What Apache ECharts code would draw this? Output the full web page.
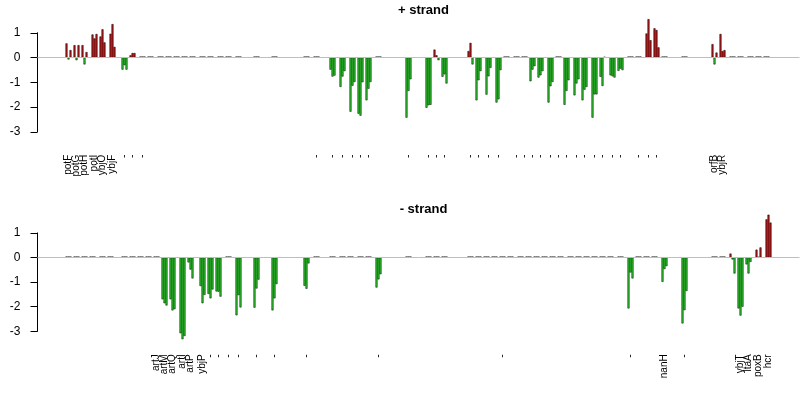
<!DOCTYPE html>
<html><head><meta charset="utf-8">
<script src="https://cdn.jsdelivr.net/npm/echarts@6/dist/echarts.min.js"></script>
<style>html,body{margin:0;padding:0;background:#fff}#c{width:800px;height:400px}</style>
</head><body><div id="c"></div>
<script>
// probe slots along the chromosome segment (each gene = 3 consecutive probes)
const slotCount = 381;
const yMin = -3, yMax = 1, yStep = 1;

// ---- + strand ----
const topStart = [14,18,22,27,31,36,42,46,51,55,60,64,68,72,76,81,85,90,94,99,108,117,133,138,
  146,151,156,160,164,169,184,194,198,202,215,219,224,229,233,238,242,246,250,255,259,263,268,272,277,
  281,286,290,295,299,304,308,312,322,337,341,346,350,355,359,363];
const topValues = [
  [0.57,-0.08,0.30],[0.50,-0.11,0.50],[0.50,-0.28,0.22],[0.93,0.77,0.95],[0.85,1.14,0.61],[0.96,1.35,0.43],
  [-0.49,-0.31,-0.49],[0.09,0.18,0.18],[0,0,0],[0,0,0],[0,0,0],[0,0,0],[0,0,0],[0,0,0],[0,0,0],[0,0,0],
  [0,0,0],[0,0,0],[0,0,0],[0,0,0],[0,0,0],[0,0,0],[0,0,0],[0,0,0],
  [-0.49,-0.77,-0.73],[-1.19,-0.77,-0.55],[-2.19,-1.14,-0.99],[-2.27,-2.35,-1.00],[-1.73,-1.26,-0.99],[0,0,0],
  [-2.43,-1.35,-0.88],[-2.03,-1.93,-1.91],[0.32,0.09,-0.11],[-0.78,-0.68,-1.05],[0.26,0.59,-0.28],
  [-1.73,-0.92,-0.55],[-1.50,-0.76,-0.42],[-1.82,-1.69,-0.51],[0,0,0],[0,0,0],[0,0,0],
  [-0.96,-0.49,-0.35],[-0.81,-0.72,-0.55],[-1.82,-1.16,-0.99],[0,0,0],[-1.91,-1.35,-0.92],
  [-1.53,-1.05,-0.88],[-1.73,-1.30,-1.19],[-2.43,-1.49,-1.49],
  [-0.78,-1.15,0.03],[-0.72,-0.76,-0.81],[-0.54,-0.45,-0.51],[0,0,0],[0,0,0],[0.97,1.55,0.70],[1.18,1.11,0.41],
  [0,0,0],[0,0,0],[0.54,-0.28,0.20],[0.95,0.26,0.30],[0,0,0],[0,0,0],[0,0,0],[0,0,0],[0,0,0]];
const topLabels = [
  'potF','potG','potH','potI','ybjO','ybjF','-','-','-',
  '','','','','','','','','','','','','','',
  '-','-','-','-','-','-','',
  '-','-','-','-','-','-','-','-','','-','-',
  '-','-','-','-','-','-','-','-',
  '-','-','-','','-','-','-','','','orfB','ybjR','','','','',''];

// ---- - strand ----
const botStart = [14,18,22,26,31,35,42,46,50,54,58,62,66,71,75,81,85,89,94,99,108,117,133,138,146,151,155,160,164,169,
  184,194,198,202,215,219,223,227,231,235,240,244,248,252,256,260,265,269,273,277,
  281,285,290,295,299,303,307,312,322,337,341,346,350,354,359,364];
const botValues = [
  [0,0,0],[0,0,0],[0,0,0],[0,0,0],[0,0,0],[0,0,0],[0,0,0],[0,0,0],[0,0,0],[0,0,0],[0,0,0],
  [-1.70,-1.86,-1.95],[-1.70,-2.15,-2.10],[-3.08,-3.32,-3.19],[-0.20,-0.49,-0.85],[-1.16,-1.86,-1.52],
  [-1.48,-1.66,-1.30],[-1.38,-1.39,-1.59],[0,0,0],[-2.35,-1.53,-2.03],[-2.04,-1.26,-0.90],[-2.15,-1.66,-1.08],
  [-1.15,-1.27,-0.24],[0,0,0],[0,0,0],[0,0,0],[0,0,0],[0,0,0],[0,0,0],[-1.22,-0.89,-0.68],
  [0,0,0],[0,0,0],[0,0,0],[0,0,0],[0,0,0],[0,0,0],[0,0,0],[0,0,0],[0,0,0],[0,0,0],[0,0,0],[0,0,0],
  [0,0,0],[0,0,0],[0,0,0],[0,0,0],[0,0,0],[0,0,0],[0,0,0],[0,0,0],
  [0,0,0],[0,0,0],[0,0,0],[-2.07,-0.61,-0.85],[0,0,0],[0,0,0],[0,0,0],[-0.99,-0.47,-0.35],[-2.68,-2.14,-1.36],
  [0,0,0],[0,0,0],[0.16,-0.08,-0.65],[-2.07,-2.36,-2.00],[-0.28,-0.65,-0.18],[0.32,0.03,0.41],[1.55,1.74,1.42]];
const botLabels = [
  '','','','','','','','','','','artJ','artM','artQ','artI','artP','ybjP',
  '-','-','-','-','-','-','-','','','','','','','-',
  '','','','','','','','','-','','','','','','','','','','','',
  '','','','-','','','','nanH','-','','','','ybjT','ltaA','poxB','hcr'];

const titles = ['+ strand', '- strand'];
const upColor = '#B01A1A', downColor = '#33CC33';
const FONT = 'Liberation Sans, Arial, sans-serif';

function buildPanel(starts, values, labels) {
  const bars = new Array(slotCount).fill(null);
  const flat = new Array(slotCount).fill(null);
  const names = new Array(slotCount).fill('');
  starts.forEach((s, i) => {
    const v = values[i];
    const allZero = v.every(x => x === 0);
    v.forEach((x, j) => { if (allZero) flat[s + j] = 0; else bars[s + j] = x; });
    names[s + 1] = labels[i] || '';
  });
  return { bars, flat, names };
}
const panels = [buildPanel(topStart, topValues, topLabels), buildPanel(botStart, botValues, botLabels)];
const cats = Array.from({ length: slotCount }, (_, i) => String(i));

const plotH = [99, 98.4];
const zeroY = [57.5, 257.5];
const grids = plotH.map((h, i) => ({
  left: 37.5, width: slotCount * 2, top: zeroY[i] - h * yMax / (yMax - yMin), height: h
}));

const option = {
  animation: false,
  backgroundColor: '#fff',
  title: titles.map((t, i) => ({
    text: t, left: 418.5, textAlign: 'center', top: i === 0 ? -1 : 198,
    textStyle: { fontFamily: FONT, fontSize: 13, fontWeight: 'bold', color: '#000' }
  })),
  grid: grids,
  xAxis: panels.map((p, i) => ({
    type: 'category', gridIndex: i, data: cats, boundaryGap: true,
    axisLine: { show: false }, axisTick: { show: false }, splitLine: { show: false },
    axisLabel: {
      interval: 0, rotate: 90, margin: 23, fontSize: 10, fontFamily: FONT, color: '#000',
      formatter: (val, idx) => p.names[idx]
    }
  })),
  yAxis: panels.map((p, i) => ({
    type: 'value', gridIndex: i, min: yMin, max: yMax, interval: yStep,
    axisLine: { show: true, lineStyle: { color: '#000', width: 1 } },
    axisTick: { show: true, length: 7, lineStyle: { color: '#000' } },
    splitLine: { show: false },
    axisLabel: { margin: 17, fontSize: 12, fontFamily: FONT, color: '#000' }
  })),
  series: []
};

panels.forEach((p, i) => {
  option.series.push({
    type: 'line', xAxisIndex: i, yAxisIndex: i, data: new Array(slotCount).fill(null), z: 1,
    showSymbol: false, silent: true,
    markLine: { silent: true, symbol: 'none', label: { show: false },
      lineStyle: { color: '#bebebe', type: 'solid', width: 1 }, data: [{ yAxis: 0 }] }
  });
  option.series.push({
    type: 'bar', xAxisIndex: i, yAxisIndex: i, data: p.bars, z: 2, clip: false,
    barCategoryGap: '0%', barGap: '-100%', barWidth: '100%',
    itemStyle: {
      color: params => (params.value >= 0 ? upColor : downColor),
      borderColor: '#000', borderWidth: 0.5
    }
  });
  // zero-valued probes: flat bars (min height 1px) drawn in black along 0
  option.series.push({
    type: 'bar', xAxisIndex: i, yAxisIndex: i, data: p.flat, z: 3, clip: false,
    barCategoryGap: '0%', barGap: '-100%', barWidth: '100%', barMinHeight: 1,
    itemStyle: { color: '#000', borderWidth: 0 }
  });
});

const chart = echarts.init(document.getElementById('c'), null, { renderer: 'canvas' });
chart.setOption(option);
</script>
</body></html>
